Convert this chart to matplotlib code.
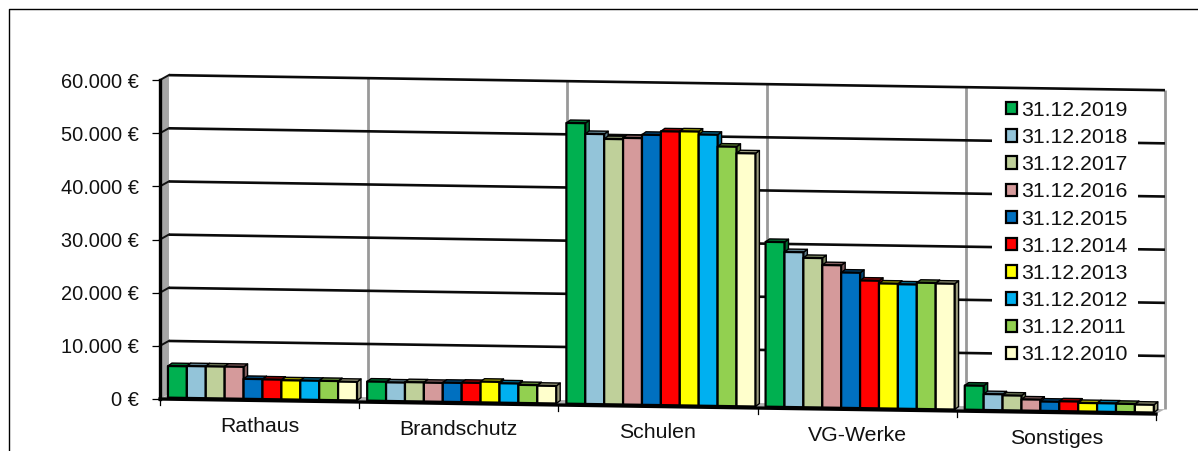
import matplotlib
matplotlib.use('Agg')
import matplotlib.pyplot as plt
from matplotlib.lines import Line2D
from matplotlib.patches import Patch, Polygon, Rectangle
from matplotlib.transforms import Affine2D

plt.rcParams['font.family'] = ['Liberation Sans', 'DejaVu Sans']

categories = ['Rathaus', 'Brandschutz', 'Schulen', 'VG-Werke', 'Sonstiges']
dates = ['31.12.2019', '31.12.2018', '31.12.2017', '31.12.2016', '31.12.2015',
         '31.12.2014', '31.12.2013', '31.12.2012', '31.12.2011', '31.12.2010']
colors = ['#00B050', '#93C4D9', '#BFD09A', '#D59A9B', '#0070C0',
          '#FF0000', '#FFFF00', '#00B0F0', '#92D050', '#FFFFCC']
side_colors = ['#006B30', '#5A7A87', '#75805E', '#825E5F', '#004575',
               '#9C0000', '#9C9C00', '#006C94', '#5A8031', '#9C9C7D']

rathaus = [5950, 6000, 6000, 6000, 3750, 3700, 3600, 3600, 3600, 3500]
brandschutz = [3600, 3500, 3600, 3550, 3600, 3650, 3900, 3650, 3400, 3300]
schulen = [52800, 50800, 49900, 50150, 50800, 51500, 51550, 51000, 48800, 47600]
vg_werke = [31000, 29150, 28100, 26800, 25450, 24000, 23500, 23400, 23750, 23650]
sonstiges = [4550, 3000, 2800, 2100, 1750, 1850, 1600, 1600, 1550, 1450]
series_by_category = [rathaus, brandschutz, schulen, vg_werke, sonstiges]

value_ticks = [0, 10000, 20000, 30000, 40000, 50000, 60000]
value_tick_labels = ['0 €', '10.000 €', '20.000 €', '30.000 €', '40.000 €', '50.000 €', '60.000 €']

# pseudo-3D layout, all in data units (x = categories, y = euros)
SLOPE = 566        # floor sinks by this many euros per category
WALL_DX = 0.045    # back wall offset
WALL_DY = 940
BAR_DX = 0.02      # depth of one bar
BAR_DY = 560
BAR_START = 0.04
BAR_STEP = 0.0949
BAR_INSET_Y = 280  # bars stand a little behind the front edge

fig = plt.figure(figsize=(11.98, 4.51), dpi=100)
# outer frame, only the top and left edge are in view
fig.add_artist(Line2D([8.5 / 1198, 8.5 / 1198, 1], [0, 1 - 8.5 / 451, 1 - 8.5 / 451], color='black', lw=1.0))
ax = fig.add_axes([160 / 1198, 52 / 451, 996 / 1198, 319 / 451])
ax.patch.set_visible(False)
ax.set_xlim(0, 5)
ax.set_ylim(0, 60000)

# everything on the floor and the walls leans along this shear
tr = Affine2D.from_values(1, -SLOPE, 0, 1, 0, 0) + ax.transData

# left wall and floor
ax.add_patch(Polygon([(0, 0), (WALL_DX, WALL_DY), (WALL_DX, 60000 + WALL_DY), (0, 60000)],
                     transform=ax.transData, facecolor='#A6A6A6', edgecolor='none', clip_on=False))
ax.add_patch(Polygon([(0, 0), (WALL_DX, WALL_DY), (5 + WALL_DX, WALL_DY), (5, 0)],
                     transform=tr, facecolor='#B0B0B0', edgecolor='none', clip_on=False))

# vertical lines on the back wall
for i in range(1, 6):
    ax.plot([i + WALL_DX] * 2, [WALL_DY, 60000 + WALL_DY], transform=tr, color='#999999', lw=2.0,
            clip_on=False, solid_capstyle='butt')

# horizontal grid lines, with a short piece across the left wall
for v in value_ticks[1:]:
    ax.plot([WALL_DX, 5 + WALL_DX], [v + WALL_DY] * 2, transform=tr, color='#0A0A0A', lw=1.9, clip_on=False,
            solid_capstyle='butt')
    ax.plot([0, WALL_DX], [v, v + WALL_DY], transform=ax.transData, color='#111111', lw=1.4, clip_on=False)

# front edge of the floor and its category ticks
ax.plot([0, 5], [0, 0], transform=tr, color='black', lw=2.4, clip_on=False)
for i in range(6):
    ax.plot([i, i], [0, -1100], transform=tr, color='black', lw=0.9, clip_on=False)

# bars, left to right so the next front hides the side of the previous one
for i, values in enumerate(series_by_category):
    for j, value in enumerate(values):
        x0 = i + BAR_START + j * BAR_STEP
        x1 = x0 + BAR_STEP
        y0 = BAR_INSET_Y
        y1 = y0 + value
        ax.add_patch(Polygon([(x1, y0), (x1 + BAR_DX, y0 + BAR_DY), (x1 + BAR_DX, y1 + BAR_DY), (x1, y1)],
                             transform=tr, facecolor=side_colors[j], edgecolor='black', lw=1.0,
                             joinstyle='round', clip_on=False, zorder=3))
        ax.add_patch(Polygon([(x0, y1), (x0 + BAR_DX, y1 + BAR_DY), (x1 + BAR_DX, y1 + BAR_DY), (x1, y1)],
                             transform=tr, facecolor=side_colors[j], edgecolor='black', lw=1.0,
                             joinstyle='round', clip_on=False, zorder=3))
        ax.add_patch(Polygon([(x0, y0), (x0, y1), (x1, y1), (x1, y0)],
                             transform=tr, facecolor=colors[j], edgecolor='black', lw=1.6,
                             joinstyle='round', clip_on=False, zorder=3))

# category labels follow the sloping floor
for i, name in enumerate(categories):
    ax.text(i + 0.5, -4900, name, transform=tr, ha='center', va='center', fontsize=15.3, color='#111111',
            clip_on=False)

# value axis
for name in ['top', 'right', 'bottom']:
    ax.spines[name].set_visible(False)
ax.spines['left'].set_linewidth(2.4)
ax.set_xticks([])
ax.set_yticks(value_ticks, value_tick_labels, fontsize=14.4, color='#111111')
ax.tick_params(axis='y', length=6, width=0.9, pad=9)

# white block behind the legend, wider than the legend's own box
ax.add_patch(Rectangle((832 / 996, 1 - 288 / 319), 146 / 996, 274 / 319, transform=ax.transAxes,
                       facecolor='white', edgecolor='none', clip_on=False, zorder=2.4))

handles = [Patch(facecolor=c, edgecolor='black', linewidth=1.6) for c in colors]
legend = ax.legend(handles, dates, loc='upper left', bbox_to_anchor=(839 / 996, 1.0 - 14 / 319), frameon=False,
                   fontsize=15.3, handlelength=0.52, handleheight=0.52, handletextpad=0.18, labelspacing=0.385,
                   borderpad=0.32, borderaxespad=0)
legend.set_zorder(2.5)
for text in legend.get_texts():
    text.set_color('#111111')

fig.savefig('out.png', dpi=100)
